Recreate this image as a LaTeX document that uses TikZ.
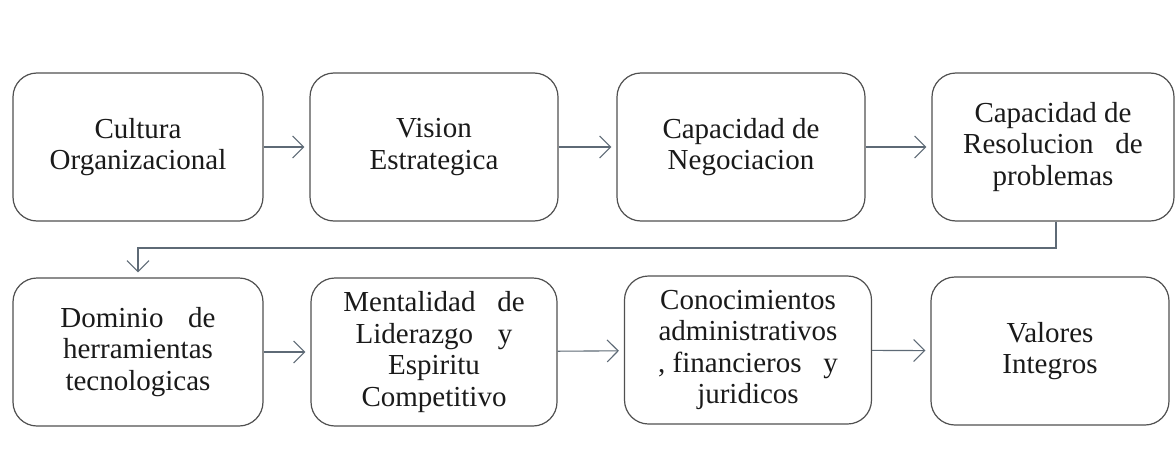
\documentclass[tikz,border=0pt]{standalone}
\usepackage{fontspec}
\setmainfont{Liberation Serif}
\usetikzlibrary{arrows.meta}
\definecolor{boxline}{HTML}{505050}
\definecolor{arrowline}{HTML}{5E6A76}
\definecolor{txt}{HTML}{1A1A1A}
\begin{document}
\begin{tikzpicture}[x=1pt,y=-1pt,
  stepbox/.style={draw=boxline, line width=1.2pt, rounded corners=24pt, fill=white,
    minimum height=148pt, inner sep=0pt, align=center, text=txt,
    font=\fontsize{29}{31.5}\selectfont},
  flow/.style={draw=arrowline, line width=1.1pt, shorten >=5pt,
    -{Straight Barb[length=11pt,width=22pt,line width=1.1pt]}}]
\useasboundingbox[fill=white] (0,0) rectangle (1175,471);
\node[stepbox, minimum width=250pt] (b1) at (138,147) {Cultura\\Organizacional};
\node[stepbox, minimum width=248pt] (b2) at (434,147) {Vision\\Estrategica};
\node[stepbox, minimum width=248pt] (b3) at (741,147) {Capacidad de\\Negociacion};
\node[stepbox, minimum width=242pt] (b4) at (1053,147) {Capacidad de\\Resolucion\hspace{0.5em} de\\problemas};
\node[stepbox, minimum width=250pt] (b5) at (138,352) {Dominio\hspace{0.6em} de\\herramientas\\tecnologicas};
\node[stepbox, minimum width=246pt] (b6) at (434,352) {Mentalidad\hspace{0.5em} de\\Liderazgo\hspace{0.6em} y\\Espiritu\\Competitivo};
\node[stepbox, minimum width=247pt] (b7) at (748,350) {Conocimientos\\administrativos\\, financieros\hspace{0.5em} y\\juridicos};
\node[stepbox, minimum width=238pt] (b8) at (1050,351) {Valores\\Integros};
\draw[flow] (b1) -- (b2);
\draw[flow] (b2) -- (b3);
\draw[flow] (b3) -- (b4);
\draw[flow] (b5) -- (b6);
\draw[flow] (b6) -- (b7);
\draw[flow] (b7) -- (b8);
\coordinate (t1) at (1056,248);
\coordinate (t2) at (138,248);
\draw[flow] (b4.south -| t1) -- (t1) -- (t2) -- (b5.north);
\end{tikzpicture}
\end{document}
